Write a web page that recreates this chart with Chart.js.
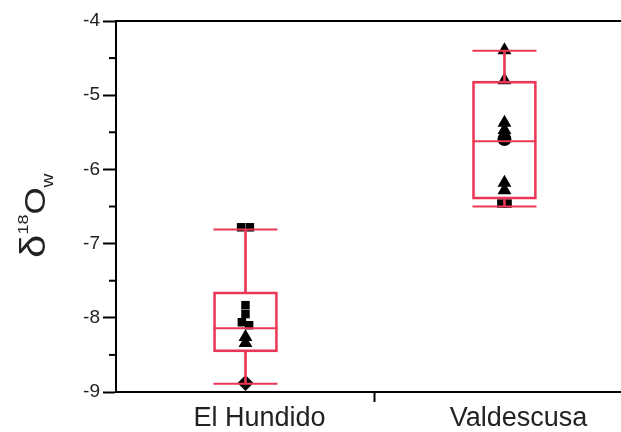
<!DOCTYPE html>
<html>
<head>
<meta charset="utf-8">
<script src="https://cdn.jsdelivr.net/npm/chart.js@4/dist/chart.umd.min.js"></script>
<style>
  html, body { margin: 0; padding: 0; background: #fff; overflow: hidden; }
  #wrap { width: 621px; height: 432px; }
</style>
</head>
<body>
<div id="wrap"><canvas id="myChart" width="621" height="432"></canvas></div>
<script>
// categories and box statistics
const categories = ["El Hundido", "Valdescusa"];
const catPos = [1, 2];
const whiskerLow = [-8.89, -6.50];
const q1 = [-8.46, -6.40];
const medians = [-8.14, -5.62];
const q3 = [-7.65, -4.81];
const whiskerHigh = [-6.81, -4.40];

// individual samples, [x, value] by marker shape
const squares = [[0.983, -6.78], [1.017, -6.78], [1, -7.83], [1, -7.95], [0.986, -8.06], [1.014, -8.10], [1.988, -6.46], [2.012, -6.46]];
const triangles = [[1, -8.26], [1, -8.34], [2, -4.395], [2, -4.80], [2, -5.37], [2, -5.47], [2, -6.18], [2, -6.28]];
const circles = [[2, -5.59]];
const diamonds = [[1, -8.88]];

const yTicks = [-9, -8, -7, -6, -5, -4];

const RED = "rgb(235,55,85)";
const FONT = "'Liberation Sans', Arial, sans-serif";

const toXY = arr => arr.map(p => ({x: p[0], y: p[1]}));

function capPoints(vals) {
    return catPos.map((x, i) => ({x: x, y: vals[i]}));
}

// top frame line, minor ticks on the y axis and the y title with sub/superscripts
const extras = {
    id: 'extras',
    afterDraw(chart) {
        const ctx = chart.ctx;
        const y = chart.scales.y;
        const area = chart.chartArea;
        ctx.save();
        ctx.strokeStyle = "#000";
        ctx.lineWidth = 2;
        ctx.beginPath();
        ctx.moveTo(area.left, area.top);
        ctx.lineTo(area.right, area.top);
        ctx.stroke();
        for (let i = 0; i < yTicks.length - 1; i++) {
            const py = y.getPixelForValue(yTicks[i] + 0.5);
            ctx.beginPath();
            ctx.moveTo(area.left - 7, py);
            ctx.lineTo(area.left, py);
            ctx.stroke();
        }
        ctx.restore();

        // title: δ18Ow
        ctx.save();
        ctx.fillStyle = "#222";
        ctx.translate(45, 258);
        ctx.rotate(-Math.PI / 2);
        ctx.scale(1.2, 1);
        ctx.textBaseline = "alphabetic";
        let u = 0;
        const parts = [
            {t: "δ", f: "35px " + FONT, v: 0},
            {t: "18", f: "15px " + FONT, v: -17},
            {t: "O", f: "29px " + FONT, v: 0},
            {t: "w", f: "16px " + FONT, v: 8}
        ];
        parts.forEach(p => {
            ctx.font = p.f;
            ctx.fillText(p.t, u, p.v);
            u += ctx.measureText(p.t).width;
        });
        ctx.restore();
    }
};

const ctx = document.getElementById('myChart').getContext('2d');
const myChart = new Chart(ctx, {
    type: 'bar',
    data: {
        datasets: [
            {
                type: 'bar',
                data: catPos.map((x, i) => ({x: x, y: [q1[i], q3[i]]})),
                backgroundColor: 'rgba(0,0,0,0)',
                borderColor: RED,
                borderWidth: 2,
                borderSkipped: false,
                barThickness: 64,
                grouped: false,
                order: 0
            },
            {
                type: 'bar',
                data: catPos.map((x, i) => ({x: x, y: [whiskerLow[i], q1[i]]})),
                backgroundColor: RED,
                borderWidth: 0,
                barThickness: 2,
                grouped: false,
                order: 0
            },
            {
                type: 'bar',
                data: catPos.map((x, i) => ({x: x, y: [q3[i], whiskerHigh[i]]})),
                backgroundColor: RED,
                borderWidth: 0,
                barThickness: 2,
                grouped: false,
                order: 0
            },
            {
                type: 'scatter',
                data: capPoints(whiskerLow).concat(capPoints(whiskerHigh), capPoints(medians)),
                pointStyle: 'line',
                pointRadius: 32,
                borderColor: RED,
                borderWidth: 2,
                order: 0
            },
            {
                type: 'scatter',
                data: toXY(squares),
                pointStyle: 'rect',
                pointRadius: 6,
                backgroundColor: '#000',
                borderWidth: 0,
                order: 1
            },
            {
                type: 'scatter',
                data: toXY(triangles),
                pointStyle: 'triangle',
                pointRadius: 8,
                backgroundColor: '#000',
                borderWidth: 0,
                order: 1
            },
            {
                type: 'scatter',
                data: toXY(circles),
                pointStyle: 'circle',
                pointRadius: 7,
                backgroundColor: '#000',
                borderWidth: 0,
                order: 1
            },
            {
                type: 'scatter',
                data: toXY(diamonds),
                pointStyle: 'rectRot',
                pointRadius: 8,
                backgroundColor: '#000',
                borderWidth: 0,
                order: 1
            }
        ]
    },
    options: {
        responsive: false,
        animation: false,
        layout: { autoPadding: false, padding: { top: 21, right: 0, left: 0, bottom: 0 } },
        plugins: {
            legend: { display: false },
            tooltip: { enabled: false }
        },
        scales: {
            x: {
                type: 'linear',
                offset: false,
                min: 0.5,
                max: 2.45,
                afterBuildTicks: scale => {
                    scale.ticks = [{value: 1}, {value: 1.5}, {value: 2}];
                },
                afterFit: scale => { scale.height = 40; },
                ticks: {
                    autoSkip: false,
                    maxRotation: 0,
                    padding: 0,
                    labelOffset: 14,
                    color: '#222',
                    font: { family: FONT, size: 27 },
                    callback: v => {
                        const i = catPos.indexOf(v);
                        return i >= 0 ? categories[i] : '';
                    }
                },
                grid: {
                    offset: false,
                    drawOnChartArea: false,
                    tickLength: 10,
                    tickWidth: 2,
                    tickColor: c => (c.tick && c.tick.value === 1.5) ? '#000' : 'rgba(0,0,0,0)'
                },
                border: { color: '#000', width: 2 }
            },
            y: {
                min: -9,
                max: -4,
                afterBuildTicks: scale => {
                    const t = [];
                    yTicks.forEach(v => t.push({value: v}));
                    scale.ticks = t;
                },
                afterFit: scale => { scale.width = 116; },
                ticks: {
                    padding: 3,
                    color: '#222',
                    font: { family: FONT, size: 19 },
                    callback: v => String(v)
                },
                grid: {
                    drawOnChartArea: false,
                    tickLength: 13,
                    tickWidth: 2,
                    tickColor: '#000'
                },
                border: { color: '#000', width: 2 }
            }
        }
    },
    plugins: [extras]
});
</script>
</body>
</html>
